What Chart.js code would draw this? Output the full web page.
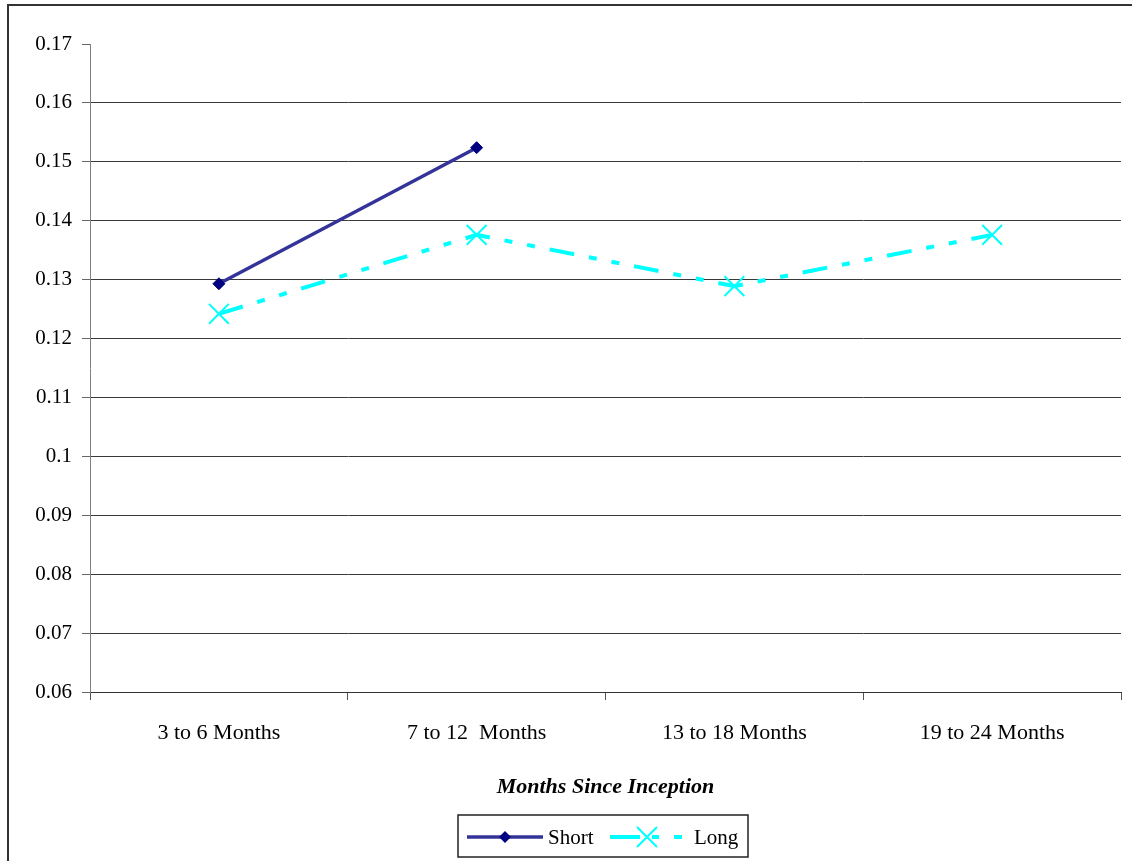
<!DOCTYPE html>
<html>
<head>
<meta charset="utf-8">
<script src="https://cdn.jsdelivr.net/npm/chart.js@4.4.1/dist/chart.umd.min.js"></script>
<style>
  html, body { margin: 0; padding: 0; background: #fff; }
  #wrap { width: 1132px; height: 861px; position: relative; }
</style>
</head>
<body>
<div id="wrap"><canvas id="c" width="1132" height="861"></canvas></div>
<script>
// Categories and series values
const categories = ['3 to 6 Months', '7 to 12  Months', '13 to 18 Months', '19 to 24 Months'];
const shortValues = [0.1293, 0.1524, null, null];
const longValues  = [0.1242, 0.1376, 0.1289, 0.1376];
const seriesNames = ['Short', 'Long'];
const axisTitle = 'Months Since Inception';
const yMin = 0.06, yMax = 0.17, yStep = 0.01;

const FONT = '"Liberation Serif", "Times New Roman", serif';
const LONG_DASH = [25, 15, 8, 15, 8, 15];

// Outer frame and the boxed legend below the axis title
const framePlugin = {
  id: 'frameAndLegend',
  afterDraw(chart) {
    const ctx = chart.ctx;
    ctx.save();
    // outer frame (runs past the right and bottom edges)
    ctx.strokeStyle = '#333';
    ctx.lineWidth = 2;
    ctx.strokeRect(8, 5, 1200, 1000);

    // legend box
    const bx = 458, by = 815, bw = 290, bh = 42, cy = 837;
    ctx.lineWidth = 1.5;
    ctx.strokeStyle = '#222';
    ctx.strokeRect(bx, by, bw, bh);

    const ds = chart.data.datasets;
    ctx.font = '21px ' + FONT;
    ctx.fillStyle = '#000';
    ctx.textBaseline = 'middle';
    ctx.textAlign = 'left';

    // Short entry
    ctx.strokeStyle = ds[0].borderColor;
    ctx.lineWidth = 3.5;
    ctx.setLineDash([]);
    ctx.beginPath(); ctx.moveTo(467, cy); ctx.lineTo(543, cy); ctx.stroke();
    ctx.fillStyle = ds[0].pointBackgroundColor;
    ctx.beginPath();
    ctx.moveTo(505, cy - 6); ctx.lineTo(511, cy); ctx.lineTo(505, cy + 6); ctx.lineTo(499, cy);
    ctx.closePath(); ctx.fill();
    ctx.fillStyle = '#000';
    ctx.fillText(ds[0].label, 548, cy + 1);

    // Long entry
    ctx.strokeStyle = ds[1].borderColor;
    ctx.lineWidth = 4;
    ctx.setLineDash([30, 12, 7, 15, 8, 15]);
    ctx.beginPath(); ctx.moveTo(610, cy); ctx.lineTo(684, cy); ctx.stroke();
    ctx.setLineDash([]);
    ctx.lineWidth = 2;
    ctx.beginPath();
    ctx.moveTo(637, cy - 10); ctx.lineTo(657, cy + 10);
    ctx.moveTo(657, cy - 10); ctx.lineTo(637, cy + 10);
    ctx.stroke();
    ctx.fillStyle = '#000';
    ctx.fillText(ds[1].label, 694, cy + 1);
    ctx.restore();
  }
};

new Chart(document.getElementById('c'), {
  type: 'line',
  data: {
    labels: categories,
    datasets: [
      {
        label: seriesNames[0],
        data: shortValues,
        borderColor: '#333399',
        borderWidth: 3.5,
        pointStyle: 'rectRot',
        pointRadius: 6,
        pointBackgroundColor: '#000080',
        pointBorderColor: '#000080',
        pointBorderWidth: 1,
        spanGaps: false,
        tension: 0
      },
      {
        label: seriesNames[1],
        data: longValues,
        borderColor: '#00FFFF',
        borderWidth: 4,
        borderDash: LONG_DASH,
        pointStyle: 'crossRot',
        pointRadius: 14,
        pointBorderColor: '#00FFFF',
        pointBackgroundColor: '#00FFFF',
        pointBorderWidth: 2,
        tension: 0
      }
    ]
  },
  options: {
    responsive: false,
    animation: false,
    devicePixelRatio: 1,
    layout: { autoPadding: false, padding: { left: 20, right: 11, top: 44, bottom: 60 } },
    plugins: {
      legend: { display: false },
      tooltip: { enabled: false }
    },
    scales: {
      x: {
        type: 'category',
        offset: true,
        afterFit(s) { s.height = 109; },
        grid: {
          offset: true,
          drawOnChartArea: false,
          drawTicks: true,
          tickLength: 8,
          color: '#555',
          tickColor: '#555'
        },
        border: { display: true, color: '#333', width: 1 },
        ticks: {
          color: '#000',
          font: { family: FONT, size: 22 },
          padding: 20,
          maxRotation: 0,
          autoSkip: false
        },
        title: {
          display: true,
          text: axisTitle,
          color: '#000',
          font: { family: FONT, size: 22, style: 'italic', weight: 'bold' },
          padding: { top: 0, bottom: 0 }
        }
      },
      y: {
        min: yMin,
        max: yMax,
        afterFit(s) { s.width = 70; },
        grid: {
          drawTicks: true,
          tickLength: 8,
          color: (c) => (c.tick && Math.abs(c.tick.value - yMax) < 1e-9) ? 'rgba(0,0,0,0)' : '#3a3a3a',
          tickColor: '#666'
        },
        border: { display: true, color: '#808080', width: 1 },
        ticks: {
          stepSize: yStep,
          color: '#000',
          font: { family: FONT, size: 21 },
          padding: 10,
          callback: (v) => String(Number(v.toFixed(2)))
        }
      }
    }
  },
  plugins: [framePlugin]
});
</script>
</body>
</html>
